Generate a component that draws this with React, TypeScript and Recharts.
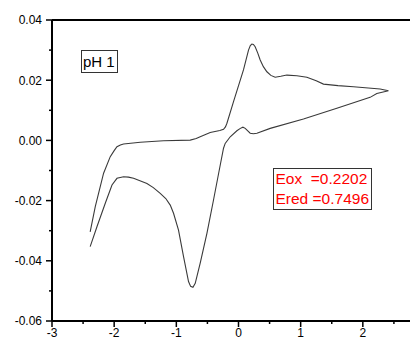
import React from 'react';
import { LineChart, Line, XAxis, YAxis, ReferenceLine } from 'recharts';

// potential (V) and current (A) in scan order
const potential = [
  -2.386, -2.304, -2.17, -2.063, -2.0, -1.955, -1.9, -1.849, -1.58, -1.206,
  -0.777, -0.68, -0.616, -0.455, -0.3, -0.241, -0.21, -0.186, -0.08, 0.08,
  0.161, 0.19, 0.215, 0.24, 0.268, 0.31, 0.349, 0.4, 0.457, 0.52,
  0.59, 0.68, 0.778, 0.939, 1.1, 1.25, 1.367, 1.6, 1.849, 2.278, 2.412,
  2.225, 2.117, 1.582, 1.045, 0.51, 0.296, 0.24, 0.188, 0.108, 0.071,
  0.03, -0.026, -0.133, -0.214, -0.241, -0.32, -0.402, -0.508, -0.616, -0.696,
  -0.733, -0.77, -0.804, -0.884, -0.965, -1.045, -1.098, -1.17, -1.259, -1.37,
  -1.473, -1.688, -1.77, -1.849, -1.955, -2.035, -2.143, -2.277, -2.386,
];
const current = [
  -0.0304, -0.022, -0.0109, -0.0054, -0.0034, -0.0021, -0.0015, -0.0012, -0.0006, -0.0001,
  0.0001, 0.0006, 0.0012, 0.0026, 0.0033, 0.0037, 0.0045, 0.0057, 0.0129, 0.0234,
  0.03, 0.0315, 0.032, 0.0319, 0.0311, 0.029, 0.0267, 0.0245, 0.0228, 0.0216,
  0.021, 0.0213, 0.0217, 0.0215, 0.021, 0.0198, 0.0187, 0.0182, 0.0178, 0.0171, 0.0165,
  0.0156, 0.0143, 0.0107, 0.0071, 0.004, 0.0024, 0.0022, 0.0024, 0.004, 0.0044,
  0.004, 0.0032, 0.0012, -0.001, -0.0026, -0.011, -0.0198, -0.0309, -0.0408, -0.0475,
  -0.0488, -0.0485, -0.0469, -0.0386, -0.0298, -0.0242, -0.0215, -0.0193, -0.0176, -0.0157,
  -0.0143, -0.0126, -0.0122, -0.0121, -0.0126, -0.0148, -0.0209, -0.0287, -0.0353,
];

const xTicks = [-3, -2.5, -2, -1.5, -1, -0.5, 0, 0.5, 1, 1.5, 2, 2.5, 3];
const xLabels = [-3, -2, -1, 0, 1, 2];
const yTicks = [-0.06, -0.05, -0.04, -0.03, -0.02, -0.01, 0, 0.01, 0.02, 0.03, 0.04];
const peakLines = ['Eox  =0.2202', 'Ered =0.7496'];
const label = 'pH 1';

const data = potential.map((x, i) => ({ x, y: current[i] }));
const font = '"Liberation Sans", Arial, sans-serif';

const XTick = (props: any) => {
  const { x, y, payload } = props;
  const major = Number.isInteger(payload.value);
  return (
    <g>
      <line x1={x} x2={x} y1={y} y2={y + (major ? 6 : 3)} stroke="#000" strokeWidth={1.5} />
      {xLabels.includes(payload.value) && (
        <text x={x} y={y + 16} textAnchor="middle" fontSize={12} fontFamily={font} fill="#000">
          {payload.value}
        </text>
      )}
    </g>
  );
};

const YTick = (props: any) => {
  const { x, y, payload } = props;
  const major = Math.round(payload.value * 100) % 2 === 0;
  return (
    <g>
      <line x1={x - (major ? 6 : 3)} x2={x} y1={y} y2={y} stroke="#000" strokeWidth={1.5} />
      {major && (
        <text x={x - 10} y={y + 4.3} textAnchor="end" fontSize={12} fontFamily={font} fill="#000">
          {payload.value.toFixed(2)}
        </text>
      )}
    </g>
  );
};

export default function App() {
  return (
    <div style={{ position: 'relative', width: 410, height: 332, overflow: 'hidden' }}>
      <LineChart width={430} height={340} data={data} margin={{ top: 12, right: 13, bottom: 7, left: 0 }}>
        <XAxis
          dataKey="x"
          type="number"
          domain={[-3, 3]}
          ticks={xTicks}
          interval={0}
          height={20}
          tickSize={0}
          tickMargin={0}
          tickLine={false}
          axisLine={{ stroke: '#000', strokeWidth: 2 }}
          tick={<XTick />}
        />
        <YAxis
          type="number"
          domain={[-0.06, 0.04]}
          ticks={yTicks}
          interval={0}
          width={44}
          tickSize={0}
          tickMargin={0}
          tickLine={false}
          axisLine={{ stroke: '#000', strokeWidth: 2 }}
          tick={<YTick />}
        />
        <ReferenceLine y={0.04} stroke="#000" strokeWidth={2} />
        <ReferenceLine x={3} stroke="#000" strokeWidth={2} />
        <Line
          dataKey="y"
          type="linear"
          stroke="#3a3a3a"
          strokeWidth={1.1}
          dot={false}
          isAnimationActive={false}
        />
      </LineChart>
      <div
        style={{
          position: 'absolute', left: 73, top: 42, width: 37, height: 23, boxSizing: 'border-box',
          border: '1px solid #333', fontFamily: font, fontSize: 15, lineHeight: '21px',
          paddingLeft: 1, color: '#000', background: '#fff', whiteSpace: 'pre',
        }}
      >
        {label}
      </div>
      <div
        style={{
          position: 'absolute', left: 265, top: 160, width: 99, height: 42, boxSizing: 'border-box',
          border: '1px solid #333', fontFamily: font, fontSize: 15.5, lineHeight: '20px',
          paddingLeft: 1.5, color: '#ff0000', background: '#fff', whiteSpace: 'pre',
        }}
      >
        {peakLines.map((t) => (
          <div key={t}>{t}</div>
        ))}
      </div>
    </div>
  );
}
